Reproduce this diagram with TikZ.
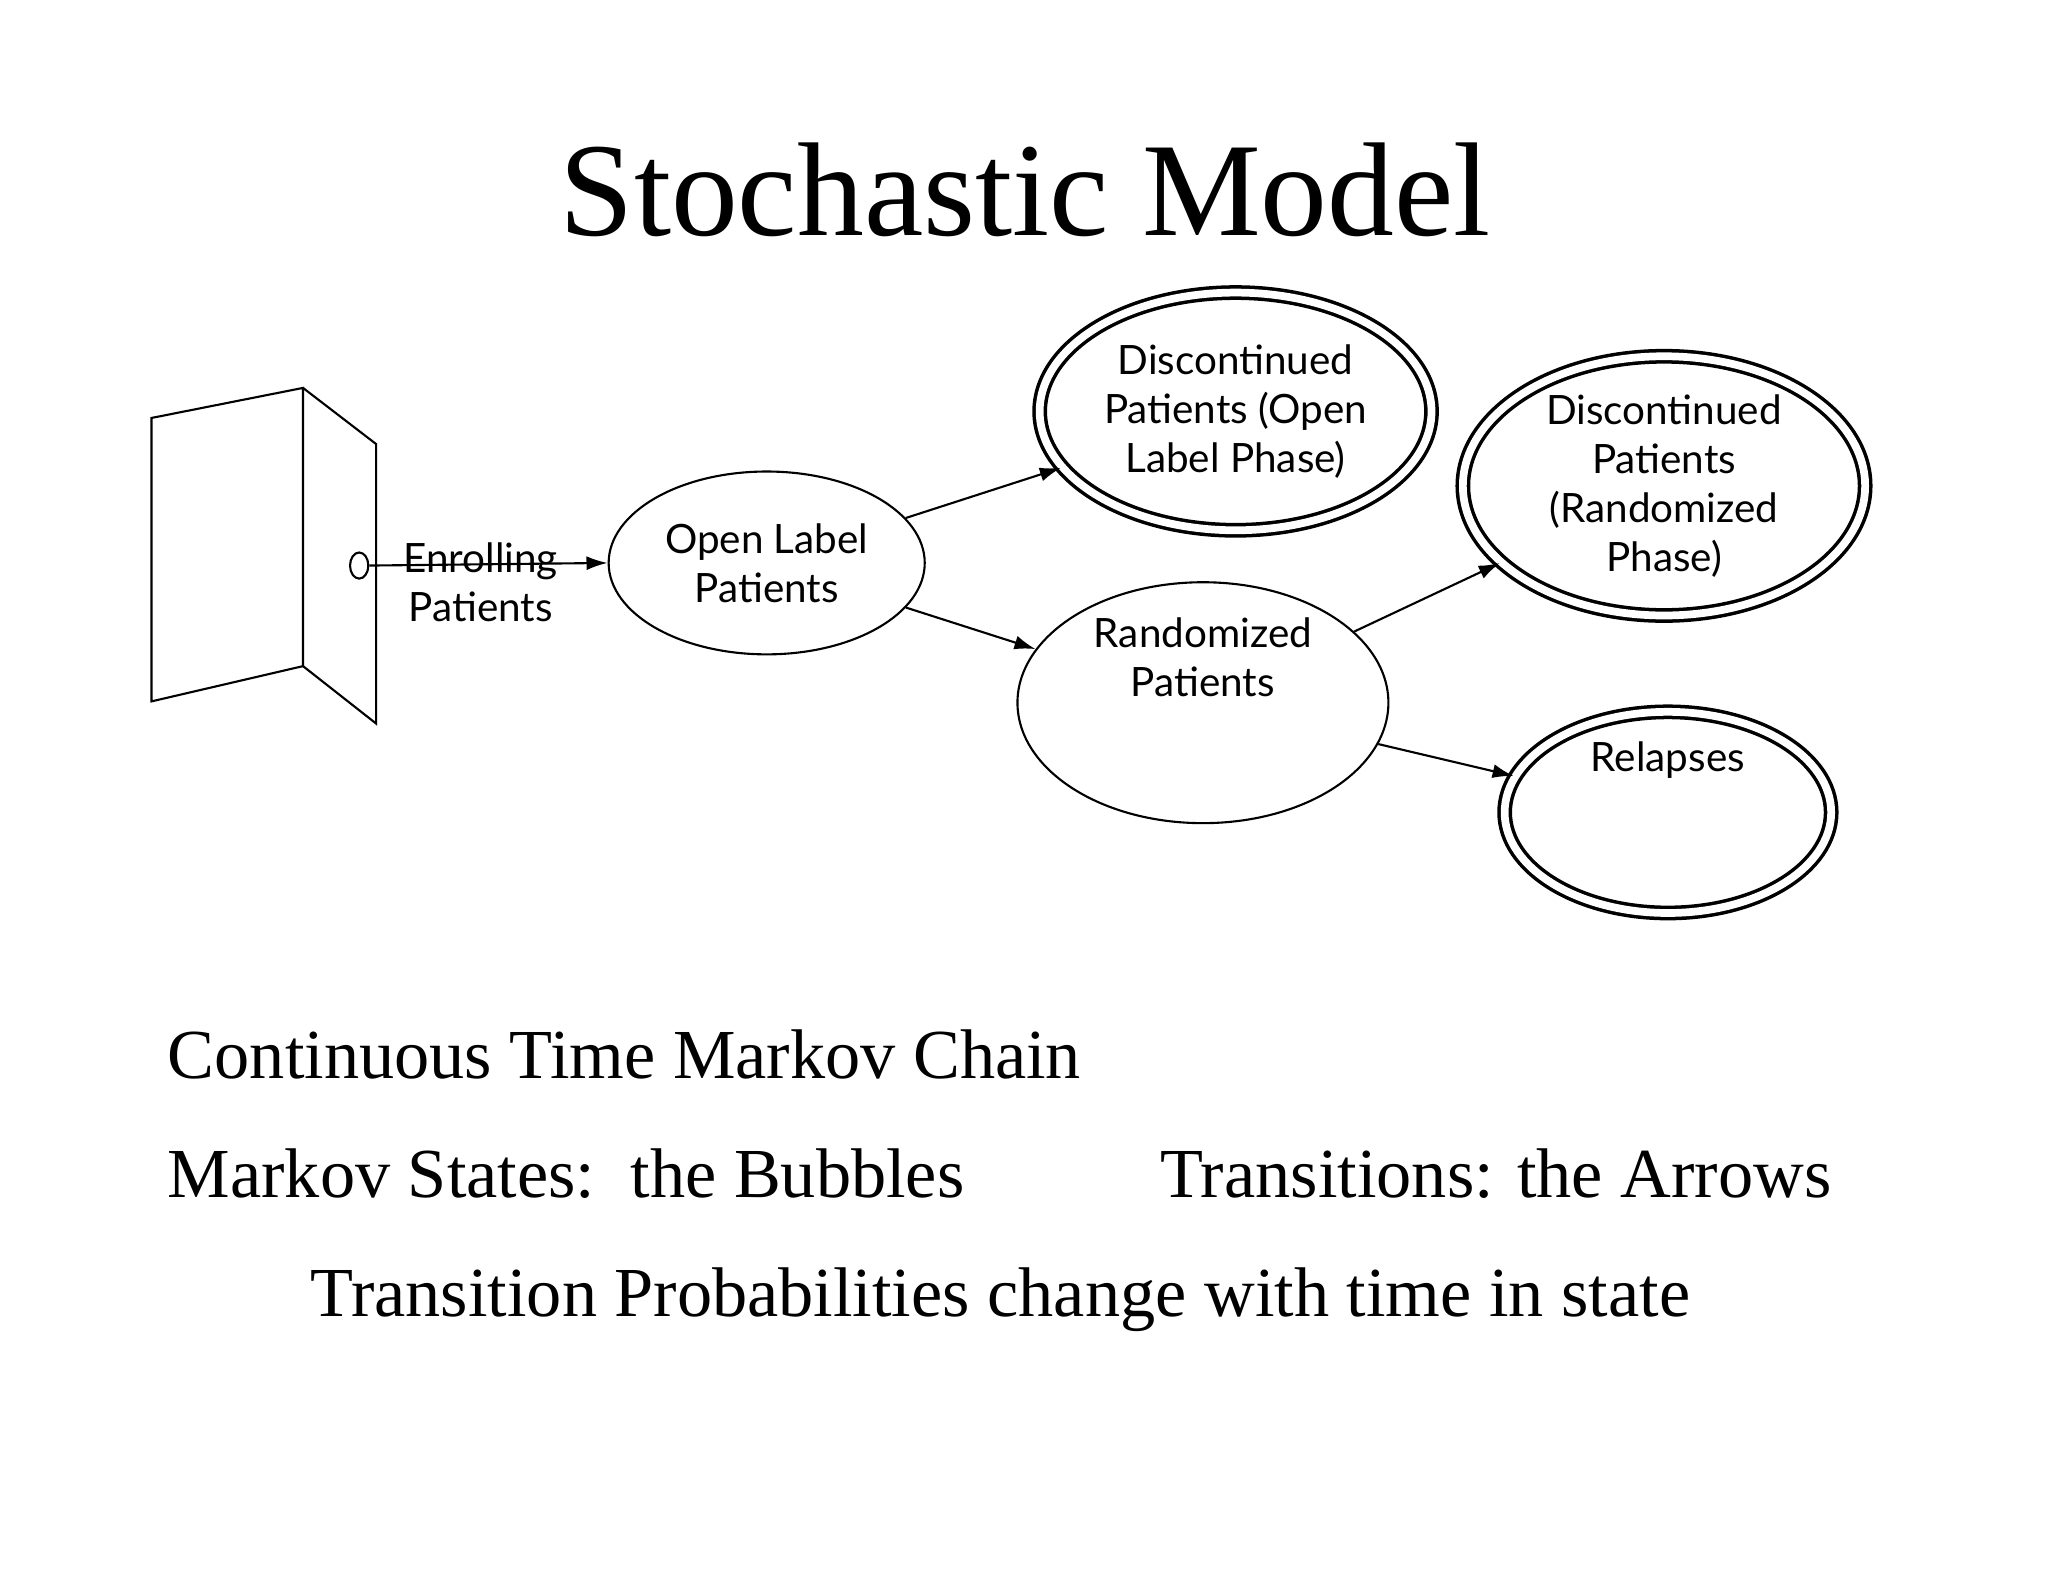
\documentclass[tikz,border=0pt]{standalone}
\usepackage{fontspec}
\setmainfont{Liberation Serif}
\newfontfamily\bub{Lato}
\usetikzlibrary{shapes.geometric,arrows.meta}
\def\dpx{0.01306cm}
\tikzset{
 bubble/.style={draw,ellipse,inner sep=0pt,align=center,font=\bub\fontsize{11.5}{14}\selectfont,line width=0.6pt},
 dbl/.style={bubble,double,double distance=2.2pt,line width=1pt},
 trans/.style={-{Latex[length=6pt,width=4pt]},line width=0.6pt},
 big/.style={font=\fontsize{20}{24}\selectfont,anchor=base west}
}
\begin{document}
\begin{tikzpicture}[x=0.01306cm,y=-0.01306cm]
\useasboundingbox (0,0) rectangle (1568,1211);
\node[font=\fontsize{38}{42}\selectfont,anchor=base] (title) at (785,180) {Stochastic Model};
% door
\draw[line width=0.6pt] (116,320) -- (232,297) -- (232,510) -- (116,537) -- cycle;
\draw[line width=0.6pt] (232,297) -- (288,340) -- (288,554) -- (232,510);
\node[draw,ellipse,minimum width=14*\dpx,minimum height=20*\dpx,inner sep=0pt,line width=0.6pt] (knob) at (275,433) {};
\node[bubble,draw=none,inner sep=0pt] (enr) at (368,446) {Enrolling\\Patients};
\node[bubble,minimum width=242*\dpx,minimum height=140*\dpx] (ol) at (587,431) {Open Label\\Patients};
\node[dbl,minimum width=300*\dpx,minimum height=182*\dpx] (dol) at (946,315) {Discontinued\\Patients (Open\\Label Phase)};
\node[bubble,minimum width=284*\dpx,minimum height=178*\dpx] (rp) at (921,538) {Randomized\\Patients\\[12pt]};
\node[dbl,minimum width=308*\dpx,minimum height=188*\dpx] (drp) at (1274,372) {Discontinued\\Patients\\(Randomized\\Phase)};
\node[dbl,minimum width=250*\dpx,minimum height=142*\dpx] (rel) at (1277,622) {Relapses\\[18pt]};
\draw[trans] (knob.east) -- (ol.west);
\draw[trans] (ol) -- (dol);
\draw[trans] (ol) -- (rp);
\draw[trans] (rp) -- (drp);
\draw[trans] (rp) -- (rel);
\node[big] (t1) at (119,826) {Continuous Time Markov Chain};
\node[big] (t2) at (119,917) {Markov States:\ \ the Bubbles};
\node[big] (t3) at (879,917) {Transitions: the Arrows};
\node[big,anchor=base] (t4) at (766,1008) {Transition Probabilities change with time in state};
\end{tikzpicture}
\end{document}
